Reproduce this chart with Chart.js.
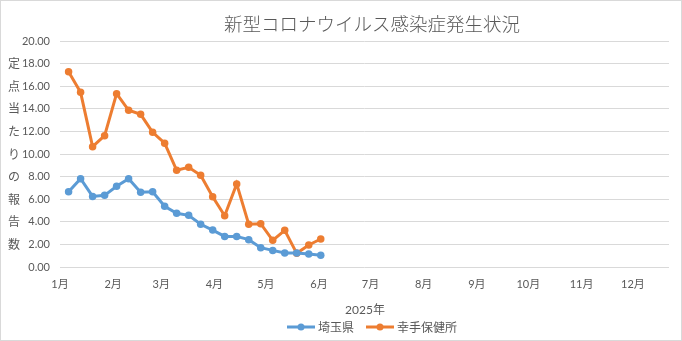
<!DOCTYPE html>
<html lang="ja">
<head>
<meta charset="utf-8">
<title>新型コロナウイルス感染症発生状況</title>
<script src="https://cdn.jsdelivr.net/npm/chart.js@4.4.1/dist/chart.umd.min.js"></script>
<style>
  html, body { margin: 0; padding: 0; background: #fff; }
  #chart { display: block; }
</style>
</head>
<body>
<canvas id="chart" width="682" height="341"></canvas>
<script>
// weekly report dates (Monday of each week)
const weekDates = [
    '2025-01-06', '2025-01-13', '2025-01-20', '2025-01-27',
    '2025-02-03', '2025-02-10', '2025-02-17', '2025-02-24',
    '2025-03-03', '2025-03-10', '2025-03-17', '2025-03-24',
    '2025-03-31', '2025-04-07', '2025-04-14', '2025-04-21',
    '2025-04-28', '2025-05-05', '2025-05-12', '2025-05-19',
    '2025-05-26', '2025-06-02'
];

// 埼玉県
const saitama = [
    6.66, 7.81, 6.25, 6.34, 7.14, 7.81, 6.61, 6.66,
    5.37, 4.75, 4.57, 3.78, 3.27, 2.71, 2.71, 2.42,
    1.71, 1.47, 1.24, 1.24, 1.15, 1.04
];

// 幸手保健所
const satte = [
    17.28, 15.46, 10.65, 11.62, 15.34, 13.87, 13.51, 11.92,
    10.95, 8.56, 8.82, 8.12, 6.22, 4.54, 7.35, 3.78,
    3.83, 2.36, 3.25, 1.21, 1.95, 2.48
];

const seriesNames = ['埼玉県', '幸手保健所'];
const seriesColors = ['#5b9bd5', '#ed7d31'];
const monthLabels = ['1月', '2月', '3月', '4月', '5月', '6月', '7月', '8月', '9月', '10月', '11月', '12月'];
const chartTitle = '新型コロナウイルス感染症発生状況';
const yTitle = '定点当たりの報告数';
const xTitle = '2025年';

const YEAR_START = Date.UTC(2025, 0, 1);
const dayOf = (t) => (t - YEAR_START) / 86400000;
const dayOfStr = (s) => dayOf(Date.parse(s + 'T00:00:00Z'));

const FONT = '"Lato", "Noto Sans CJK JP", sans-serif';
const TEXT = '#595959';

function toPoints(values) {
    return values.map((v, i) => ({ x: dayOfStr(weekDates[i]), y: v }));
}

const decor = {
    id: 'decor',
    beforeDraw(chart) {
        const ctx = chart.ctx;
        ctx.save();
        ctx.fillStyle = '#fff';
        ctx.fillRect(0, 0, chart.width, chart.height);
        ctx.restore();
    },
    afterDraw(chart) {
        const ctx = chart.ctx;
        const area = chart.chartArea;
        ctx.save();

        // frame
        ctx.strokeStyle = '#d9d9d9';
        ctx.lineWidth = 1;
        ctx.strokeRect(0.5, 0.5, chart.width - 1, chart.height - 1);

        // title
        ctx.fillStyle = TEXT;
        ctx.textAlign = 'center';
        ctx.textBaseline = 'middle';
        ctx.font = '300 18.5px "Noto Sans CJK JP", sans-serif';
        ctx.fillText(chartTitle, 372, 24);

        // y title, stacked characters
        ctx.font = '12px "Noto Sans CJK JP", sans-serif';
        const step = area.height / 10;
        const chars = Array.from(yTitle);
        const mid = (area.top + area.bottom) / 2;
        chars.forEach((c, i) => {
            ctx.fillText(c, 14, mid + (i - (chars.length - 1) / 2) * step);
        });

        // x title
        ctx.font = '12px ' + FONT;
        ctx.fillText(xTitle, 365, 310);

        // legend
        const items = [
            { x: 301, textX: 318 },
            { x: 380, textX: 397 }
        ];
        const ly = 327;
        items.forEach((it, i) => {
            ctx.strokeStyle = seriesColors[i];
            ctx.lineWidth = 3;
            ctx.beginPath();
            ctx.moveTo(it.x - 14, ly);
            ctx.lineTo(it.x + 14, ly);
            ctx.stroke();
            ctx.fillStyle = seriesColors[i];
            ctx.beginPath();
            ctx.arc(it.x, ly, 3.5, 0, Math.PI * 2);
            ctx.fill();
            ctx.fillStyle = TEXT;
            ctx.textAlign = 'left';
            ctx.font = '12px "Noto Sans CJK JP", sans-serif';
            ctx.fillText(seriesNames[i], it.textX, ly);
        });

        ctx.restore();
    }
};

new Chart(document.getElementById('chart'), {
    type: 'line',
    data: {
        datasets: [
            {
                label: seriesNames[0],
                data: toPoints(saitama),
                borderColor: seriesColors[0],
                backgroundColor: seriesColors[0],
                borderWidth: 3,
                pointRadius: 3.75,
                pointBorderWidth: 0,
                tension: 0
            },
            {
                label: seriesNames[1],
                data: toPoints(satte),
                borderColor: seriesColors[1],
                backgroundColor: seriesColors[1],
                borderWidth: 3,
                pointRadius: 3.75,
                pointBorderWidth: 0,
                tension: 0
            }
        ]
    },
    options: {
        responsive: false,
        animation: false,
        devicePixelRatio: 1,
        layout: {
            padding: { top: 41, right: 13, left: 0, bottom: 0 }
        },
        plugins: {
            legend: { display: false },
            title: { display: false },
            tooltip: { enabled: false }
        },
        scales: {
            x: {
                type: 'linear',
                min: 0,
                max: 355,
                afterBuildTicks: (scale) => {
                    scale.ticks = monthLabels.map((l, i) => ({ value: dayOf(Date.UTC(2025, i, 1)) }));
                },
                afterFit: (scale) => { scale.height = 74; },
                grid: { display: false, drawTicks: false },
                border: { display: false },
                ticks: {
                    autoSkip: false,
                    maxRotation: 0,
                    padding: 11,
                    color: TEXT,
                    font: { family: FONT, size: 11 },
                    callback: (v, i) => monthLabels[i]
                }
            },
            y: {
                min: 0,
                max: 20,
                afterFit: (scale) => { scale.width = 60; },
                grid: { color: '#d9d9d9', lineWidth: 1, drawTicks: false },
                border: { display: false },
                ticks: {
                    stepSize: 2,
                    padding: 10,
                    color: TEXT,
                    font: { family: FONT, size: 11 },
                    callback: (v) => v.toFixed(2)
                }
            }
        }
    },
    plugins: [decor]
});
</script>
</body>
</html>
